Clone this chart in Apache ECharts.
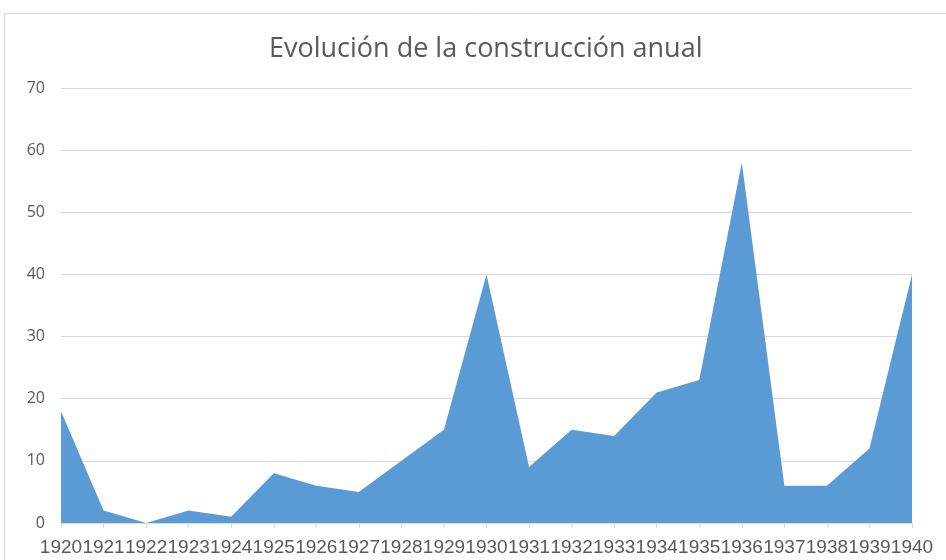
<!DOCTYPE html>
<html>
<head>
<meta charset="utf-8">
<script src="https://cdn.jsdelivr.net/npm/echarts@6/dist/echarts.min.js"></script>
<style>
html,body{margin:0;padding:0;background:#fff;}
#c{width:946px;height:560px;}
</style>
</head>
<body>
<div id="c"></div>
<script>
const titleText = 'Evolución de la construcción anual';
const years = ['1920','1921','1922','1923','1924','1925','1926','1927','1928','1929','1930','1931','1932','1933','1934','1935','1936','1937','1938','1939','1940'];
const values = [18, 2, 0, 2, 1, 8, 6, 5, 10, 15, 40, 9, 15, 14, 21, 23, 58, 6, 6, 12, 40];
const yMin = 0, yMax = 70, yStep = 10;

const chart = echarts.init(document.getElementById('c'));
chart.setOption({
  animation: false,
  backgroundColor: '#fff',
  graphic: [{
    type: 'rect',
    shape: {x: 4.5, y: 13.5, width: 960, height: 600},
    style: {fill: 'none', stroke: '#d9d9d9', lineWidth: 1},
    silent: true
  }],
  title: {
    text: titleText,
    left: 264,
    top: 31,
    textStyle: {fontFamily: 'Open Sans', fontSize: 27, fontWeight: 'normal', color: '#595959'}
  },
  grid: {left: 61, right: 34, top: 88, bottom: 37},
  xAxis: {
    type: 'category',
    data: years,
    boundaryGap: false,
    axisLine: {lineStyle: {color: '#d9d9d9'}},
    axisTick: {show: true, alignWithLabel: true, length: 5, lineStyle: {color: '#d9d9d9'}},
    axisLabel: {interval: 0, color: '#595959', fontFamily: 'Liberation Sans', fontSize: 19, margin: 15},
    splitLine: {show: false}
  },
  yAxis: {
    type: 'value',
    min: yMin, max: yMax, interval: yStep,
    axisLine: {show: false},
    axisTick: {show: false},
    axisLabel: {color: '#595959', fontFamily: 'Open Sans', fontSize: 16, margin: 16},
    splitLine: {lineStyle: {color: '#d9d9d9'}}
  },
  series: [{
    type: 'line',
    data: values,
    showSymbol: false,
    lineStyle: {width: 0},
    areaStyle: {color: '#5b9bd5', opacity: 1},
    itemStyle: {color: '#5b9bd5'}
  }]
});
</script>
</body>
</html>
